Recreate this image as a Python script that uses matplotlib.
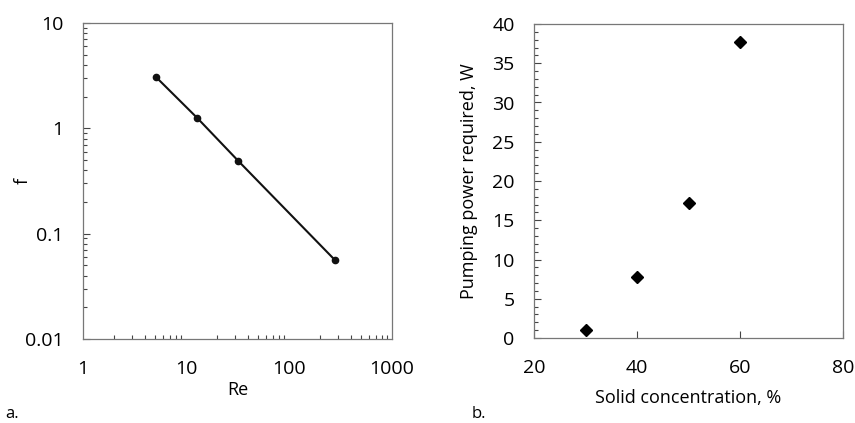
import matplotlib.pyplot as plt
from matplotlib.ticker import LogLocator, MultipleLocator, NullFormatter

plt.rcParams['font.family'] = ['Open Sans', 'DejaVu Sans']

# panel a: friction factor vs Reynolds number
re_vals = [5.06, 12.9, 32.2, 281]
f_vals = [3.1, 1.25, 0.49, 0.0558]

# panel b: pumping power vs solid concentration
conc = [30, 40, 50, 60]
power = [0.98, 7.77, 17.24, 37.66]

fig = plt.figure(figsize=(8.55, 4.23), dpi=100)

# --- a ---
ax1 = fig.add_axes([83/855, 1 - 339/423, (392-83)/855, (339-23)/423])
ax1.plot(re_vals, f_vals, color='#111111', lw=1.5, marker='o', ms=4.5)
ax1.set_xscale('log')
ax1.set_yscale('log')
ax1.set_xlim(1, 1000)
ax1.set_ylim(0.01, 10)
ax1.set_xticks([1, 10, 100, 1000])
ax1.set_xticklabels(['1', '10', '100', '1000'])
ax1.set_yticks([0.01, 0.1, 1, 10])
ax1.set_yticklabels(['0.01', '0.1', '1', '10'])
ax1.xaxis.set_minor_locator(LogLocator(base=10, subs=range(2, 10)))
ax1.yaxis.set_minor_locator(LogLocator(base=10, subs=range(2, 10)))
ax1.xaxis.set_minor_formatter(NullFormatter())
ax1.yaxis.set_minor_formatter(NullFormatter())
ax1.tick_params(which='both', direction='in', labelsize=14, color='#444444', width=0.8)
ax1.tick_params(which='major', length=5)
ax1.tick_params(which='minor', length=3)
ax1.tick_params(axis='x', which='major', length=0, pad=15)
ax1.tick_params(axis='y', which='major', pad=14)
ax1.set_xlabel('Re', fontsize=13, labelpad=2)
ax1.set_ylabel('f', fontsize=13)
ax1.yaxis.set_label_coords(-0.165, 0.5)
for s in ax1.spines.values():
    s.set_color('#777777')
    s.set_linewidth(0.9)

# --- b ---
ax2 = fig.add_axes([534/855, 1 - 338/423, (843-534)/855, (338-24)/423])
ax2.plot(conc, power, linestyle='none', marker='D', color='black', ms=6.5)
ax2.set_xlim(20, 80)
ax2.set_ylim(0, 40)
ax2.xaxis.set_major_locator(MultipleLocator(20))
ax2.yaxis.set_major_locator(MultipleLocator(5))
ax2.yaxis.set_minor_locator(MultipleLocator(1))
ax2.tick_params(which='both', direction='in', labelsize=14, color='#444444', width=0.8)
ax2.tick_params(which='major', length=5)
ax2.tick_params(which='minor', length=3)
ax2.tick_params(axis='x', which='major', pad=15)
ax2.tick_params(axis='y', which='major', pad=14)
ax2.set_xlabel('Solid concentration, %', fontsize=13, labelpad=9)
ax2.set_ylabel('Pumping power required, W', fontsize=13, labelpad=10)
for s in ax2.spines.values():
    s.set_color('#777777')
    s.set_linewidth(0.9)

fig.text(5/855, 1 - 414/423, 'a.', fontsize=12, va='center')
fig.text(472/855, 1 - 414/423, 'b.', fontsize=12, va='center')

fig.savefig('out.png', dpi=100)
